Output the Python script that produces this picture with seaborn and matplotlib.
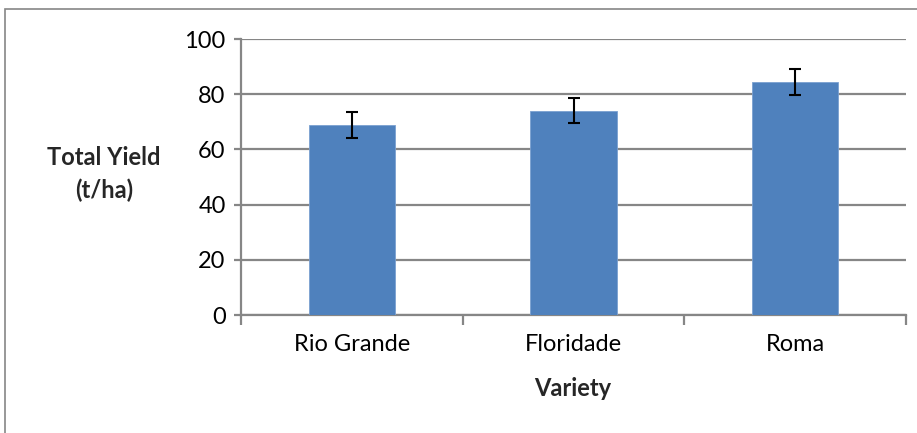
import numpy as np
import pandas as pd
import matplotlib
matplotlib.use("Agg")
import matplotlib.pyplot as plt
from matplotlib.patches import Rectangle
import seaborn as sns

# data
varieties = ["Rio Grande", "Floridade", "Roma"]
yields = [68.9, 74.0, 84.5]
errors = [4.7, 4.6, 4.65]

df = pd.DataFrame({"Variety": varieties, "Yield": yields})

sns.set_theme(style="white")
plt.rcParams["font.family"] = ["Lato", "DejaVu Sans"]
fs = 17

fig = plt.figure(figsize=(9.17, 4.33), dpi=100)
ax = fig.add_axes([241 / 917, 1 - 315 / 433, 665 / 917, 276 / 433])

sns.barplot(data=df, x="Variety", y="Yield", color="#4f81bd", saturation=1,
            width=0.39, edgecolor="#7aa0d0", linewidth=0.6, ax=ax, zorder=3)
ax.errorbar(np.arange(len(varieties)), yields, yerr=errors, fmt="none",
            ecolor="black", elinewidth=1.5, capsize=4.5, capthick=1.5, zorder=4)

ax.set_xlim(-0.5, 2.5)
ax.set_ylim(0, 100)
ax.set_yticks(range(0, 101, 20))
ax.yaxis.grid(True, color="#868686", linewidth=1.6, zorder=0)
ax.set_axisbelow(True)

for s in ["top", "right"]:
    ax.spines[s].set_visible(False)
for s in ["left", "bottom"]:
    ax.spines[s].set_color("#868686")
    ax.spines[s].set_linewidth(1.6)

# category boundary ticks on x axis
ax.set_xticks([-0.5, 0.5, 1.5, 2.5], minor=True)
ax.set_xticks([0, 1, 2])
ax.set_xticklabels(varieties, fontsize=fs)
ax.tick_params(axis="x", which="major", length=0, pad=14)
ax.tick_params(axis="x", which="minor", length=7, width=1.6, color="#868686", direction="out", bottom=True)
ax.tick_params(axis="y", length=5, width=1.6, color="#868686", direction="out", left=True, labelsize=fs, pad=6)
for lab in ax.get_xticklabels() + ax.get_yticklabels():
    lab.set_color("black")

ax.set_xlabel("")
ax.set_ylabel("")
fig.text(573 / 917, 1 - 388 / 433, "Variety", ha="center", va="center",
         fontsize=fs, fontweight="bold")
fig.text(104 / 917, 1 - 174 / 433, "Total Yield\n(t/ha)", ha="center", va="center",
         fontsize=fs, fontweight="bold", linespacing=1.45)

# chart area border
fig.patches.append(Rectangle((5 / 917, -0.02), 1.1, 1 - 9 / 433 + 0.02,
                             transform=fig.transFigure, fill=False,
                             edgecolor="#868686", linewidth=1.2))

fig.savefig("out.png", dpi=100)
